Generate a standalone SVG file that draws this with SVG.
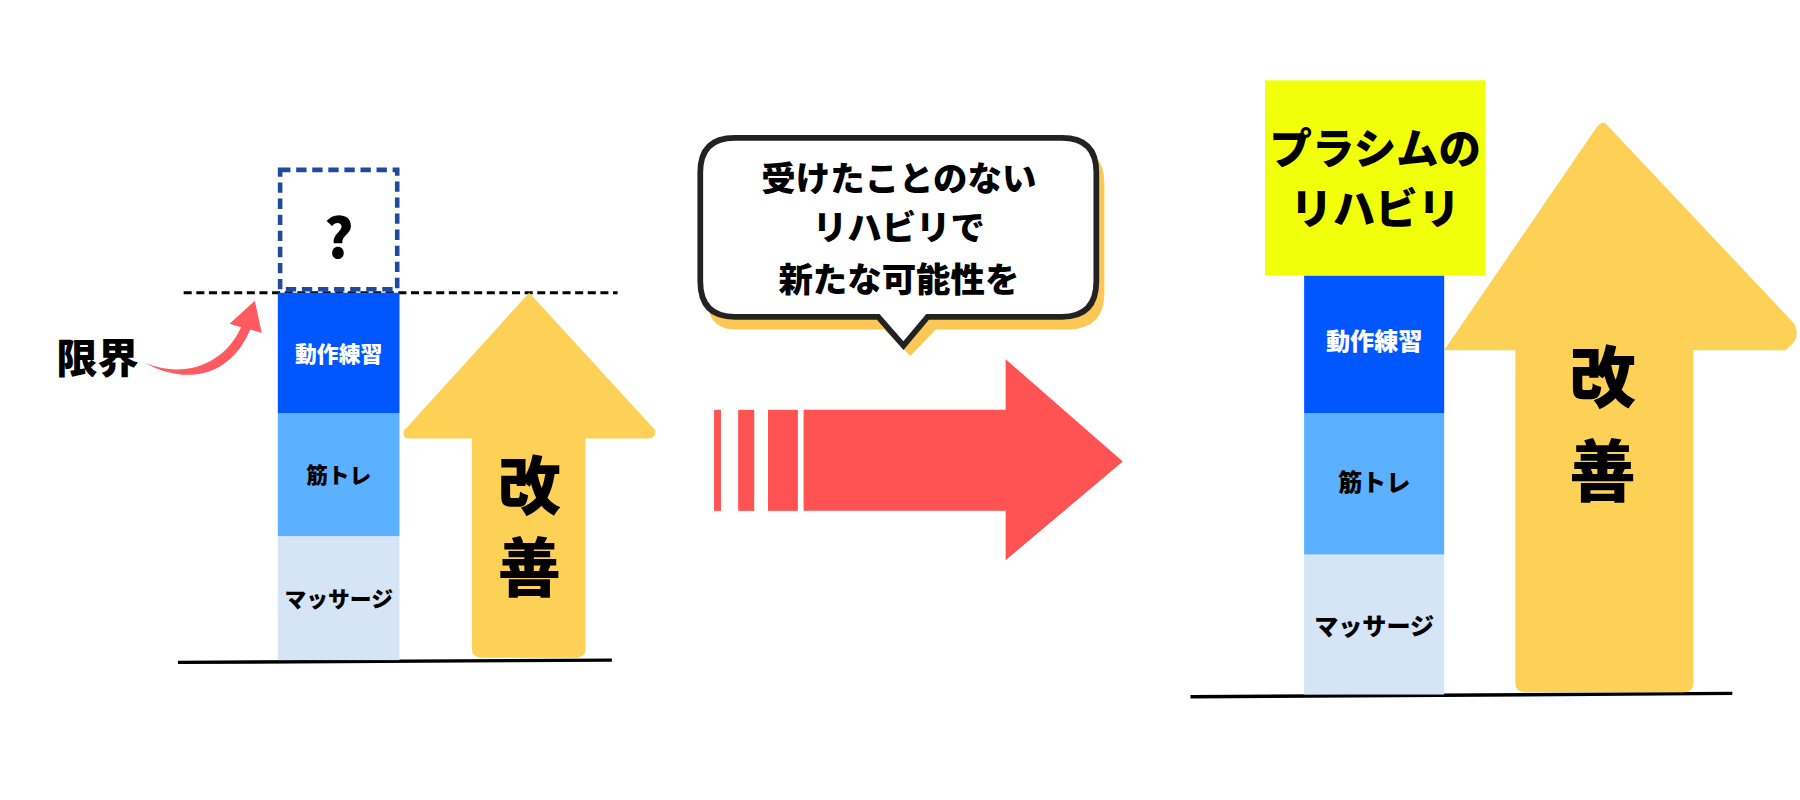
<svg xmlns="http://www.w3.org/2000/svg" width="1800" height="800" viewBox="0 0 1800 800">
<style>
text{font-family:"Noto Sans CJK JP","Noto Sans",sans-serif;font-weight:900;text-anchor:middle;fill:#000}
.yel{fill:#FCD155}
.m{fill:#D5E5F5}.k{fill:#5BB0FF}.d{fill:#0057FF}
.gl{stroke:#000;stroke-width:3}
</style>
<rect width="1800" height="800" fill="#fff"/>
<g transform="scale(1.148)">
<g id="connectors">
<line x1="160" y1="255" x2="538" y2="255" stroke="#000" stroke-width="2.5" stroke-dasharray="7,4"/>
<path class="gl" d="M155 577 L533 575"/>
<path class="gl" d="M1037 607 L1509 604"/>
<path d="M126 316 C160 330 195 318 210 285 L200 282 L222 262 L228 290 L218 287 C200 330 160 335 126 316 Z" fill="#FF5A5F"/>
<g fill="#FF5252">
<rect x="622" y="357" width="6" height="88"/>
<rect x="643" y="357" width="14" height="88"/>
<rect x="669" y="357" width="26" height="88"/>
<path d="M700 357 H876 V313 L978 402 L876 488 V445 H700 Z"/>
</g>
</g>
<g id="left-stack">
<rect class="m" x="242" y="467" width="106" height="108"/>
<text x="295" y="529" font-size="19">マッサージ</text>
<rect class="k" x="242" y="360" width="106" height="107"/>
<text x="295" y="421" font-size="19">筋トレ</text>
<rect class="d" x="242" y="255" width="106" height="105"/>
<text x="295" y="315" font-size="19" style="fill:#fff">動作練習</text>
<rect x="244" y="148" width="102" height="104" fill="#fff" stroke="#1E4B9B" stroke-width="4" stroke-dasharray="9,5"/>
<text x="295" y="225" font-size="48" font-family="Noto Sans">?</text>
</g>
<g id="left-arrow">
<path class="yel" d="M461 255 L571 375 Q571 382 564 382 H510 V565 Q510 573 502 573 H419 Q411 573 411 565 V382 H357 Q350 382 352 375 Z"/>
<text x="461" y="443" font-size="55">改</text>
<text x="461" y="515" font-size="55">善</text>
</g>
<g id="genkai"><text x="85" y="325" font-size="36">限界</text></g>
<g id="bubble">
<path d="M640 128 H930 Q962 128 962 160 V255 Q962 287 930 287 H815 L793 310 L770 287 H640 Q615 287 615 255 V160 Q615 128 640 128 Z" fill="#FCC755"/>
<path d="M640 120 H925 Q955 120 955 150 V245 Q955 276 925 276 H808 L787 301 L765 276 H640 Q610 276 610 245 V150 Q610 120 640 120 Z" fill="#fff" stroke="#222" stroke-width="5"/>
<text x="783" y="166" font-size="30">受けたことのない</text>
<text x="783" y="209" font-size="30">リハビリで</text>
<text x="783" y="254" font-size="30">新たな可能性を</text>
</g>
<g id="right-arrow">
<path class="yel" d="M1398 107 L1563 282 Q1570 295 1555 305 H1475 V595 Q1475 603 1467 603 H1328 Q1320 603 1320 595 V305 H1258 L1390 112 Q1394 106 1398 107 Z"/>
<text x="1396" y="350" font-size="58">改</text>
<text x="1396" y="432" font-size="58">善</text>
</g>
<g id="right-stack">
<rect class="m" x="1136" y="483" width="122" height="122"/>
<text x="1197" y="553" font-size="21">マッサージ</text>
<rect class="k" x="1136" y="360" width="122" height="123"/>
<text x="1197" y="428" font-size="21">筋トレ</text>
<rect class="d" x="1136" y="240" width="122" height="120"/>
<text x="1197" y="305" font-size="21" style="fill:#fff">動作練習</text>
</g>
<g id="prasim">
<rect x="1102" y="70" width="192" height="170" fill="#F2FF0A"/>
<text x="1198" y="143" font-size="37">プラシムの</text>
<text x="1198" y="195" font-size="37">リハビリ</text>
</g>
</g>
</svg>
